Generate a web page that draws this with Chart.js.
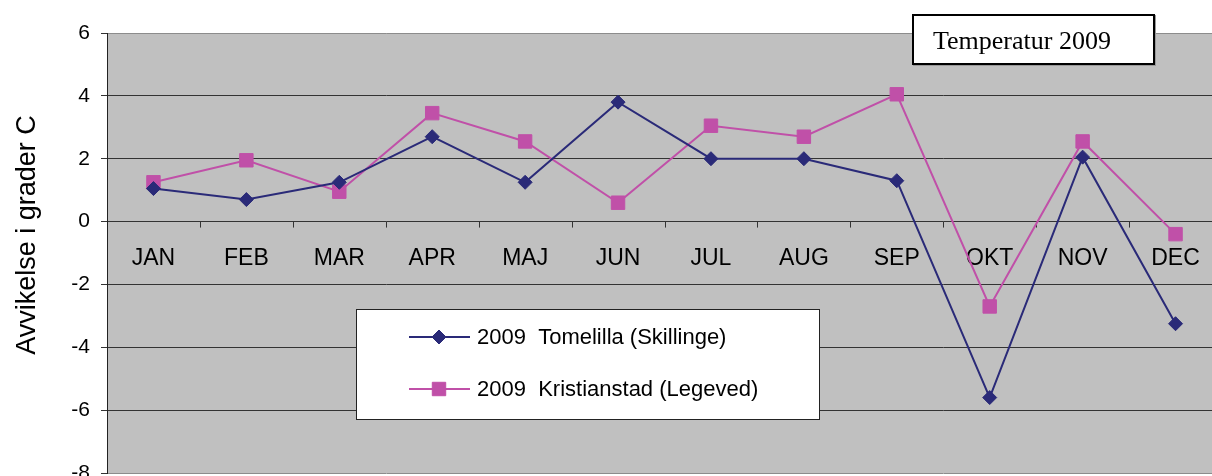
<!DOCTYPE html>
<html lang="sv">
<head>
  <meta charset="UTF-8" />
  <title>Temperatur 2009</title>
  <script src="https://cdn.jsdelivr.net/npm/chart.js"></script>
  <style>
    html, body {
      margin: 0;
      padding: 0;
      background: #fff;
    }

    /* the plot runs a bit past the right edge in the original, so the canvas is wider and clipped */
    #wrap {
      position: relative;
      width: 1212px;
      height: 476px;
      overflow: hidden;
    }

    #title-box {
      position: absolute;
      left: 912px;
      top: 14px;
      width: 220px;
      height: 45px;
      padding: 2px 0 0 19px;
      border: 2px solid #000;
      background: #fff;
      box-shadow: 1px 1px 0 #999;
      font-family: 'Liberation Serif', 'Times New Roman', serif;
      font-size: 26px;
      line-height: 45px;
      color: #000;
      white-space: nowrap;
    }
  </style>
</head>
<body>

  <div id="wrap">
    <canvas id="tempChart" width="1222" height="476"></canvas>
    <div id="title-box">Temperatur 2009</div>
  </div>

  <script>
    const months = ['JAN', 'FEB', 'MAR', 'APR', 'MAJ', 'JUN', 'JUL', 'AUG', 'SEP', 'OKT', 'NOV', 'DEC'];
    const tomelilla = [1.05, 0.7, 1.25, 2.7, 1.25, 3.8, 2.0, 2.0, 1.3, -5.6, 2.05, -3.25];
    const kristianstad = [1.25, 1.95, 0.95, 3.45, 2.55, 0.6, 3.05, 2.7, 4.05, -2.7, 2.55, -0.4];
    const seriesNames = ['2009  Tomelilla (Skillinge)', '2009  Kristianstad (Legeved)'];
    const yTitle = 'Avvikelse i grader C';

    const sans = "'Liberation Sans', Arial, sans-serif";

    // grey plot area behind everything
    const plotBackground = {
      id: 'plotBackground',
      beforeDraw(chart) {
        const { ctx, chartArea: a } = chart;
        ctx.save();
        ctx.fillStyle = '#c0c0c0';
        ctx.fillRect(a.left, a.top, a.right - a.left, a.bottom - a.top);
        ctx.restore();
      }
    };

    // month labels + tick marks sitting on the zero line, like excel does it
    const zeroAxis = {
      id: 'zeroAxis',
      beforeDatasetsDraw(chart) {
        const { ctx } = chart;
        const x = chart.scales.x;
        const y0 = chart.scales.y.getPixelForValue(0);
        ctx.save();
        ctx.strokeStyle = '#333';
        ctx.lineWidth = 1;
        ctx.beginPath();
        for (let i = 1; i < months.length; i++) {
          const bx = Math.round((x.getPixelForValue(i - 1) + x.getPixelForValue(i)) / 2) + 0.5;
          ctx.moveTo(bx, y0);
          ctx.lineTo(bx, y0 + 6);
        }
        ctx.stroke();

        ctx.fillStyle = '#000';
        ctx.font = '23px ' + sans;
        ctx.textAlign = 'center';
        ctx.textBaseline = 'alphabetic';
        months.forEach((m, i) => {
          ctx.fillText(m, x.getPixelForValue(i), y0 + 43);
        });
        ctx.restore();
      }
    };

    // rotated y title, a bit above the middle
    const yTitleDraw = {
      id: 'yTitleDraw',
      afterDraw(chart) {
        const { ctx } = chart;
        ctx.save();
        ctx.translate(35, 235);
        ctx.rotate(-Math.PI / 2);
        ctx.fillStyle = '#000';
        ctx.font = '27px ' + sans;
        ctx.textAlign = 'center';
        ctx.textBaseline = 'alphabetic';
        ctx.fillText(yTitle, 0, 0);
        ctx.restore();
      }
    };

    // boxed legend inside the plot
    const boxLegend = {
      id: 'boxLegend',
      afterDraw(chart) {
        const { ctx } = chart;
        const box = { left: 356, top: 309, width: 463, height: 110 };
        ctx.save();
        ctx.fillStyle = '#fff';
        ctx.fillRect(box.left, box.top, box.width, box.height);
        ctx.strokeStyle = '#222';
        ctx.lineWidth = 1;
        ctx.strokeRect(box.left + 0.5, box.top + 0.5, box.width, box.height);

        chart.data.datasets.forEach((ds, i) => {
          const cy = 337 + i * 52;
          ctx.strokeStyle = ds.borderColor;
          ctx.lineWidth = ds.borderWidth;
          ctx.beginPath();
          ctx.moveTo(409, cy);
          ctx.lineTo(470, cy);
          ctx.stroke();

          ctx.fillStyle = ds.pointBackgroundColor;
          ctx.strokeStyle = ds.pointBorderColor;
          ctx.lineWidth = 1;
          Chart.helpers.drawPoint(ctx, {
            pointStyle: ds.pointStyle,
            radius: ds.pointRadius,
            borderWidth: 1,
            rotation: 0
          }, 439, cy);

          ctx.fillStyle = '#000';
          ctx.font = '22px ' + sans;
          ctx.textAlign = 'left';
          ctx.textBaseline = 'middle';
          ctx.fillText(ds.label, 477, cy + 1);
        });
        ctx.restore();
      }
    };

    new Chart(document.getElementById('tempChart'), {
      type: 'line',
      data: {
        labels: months,
        datasets: [
          {
            label: seriesNames[0],
            data: tomelilla,
            borderColor: '#2a2a78',
            backgroundColor: '#2a2a78',
            pointBackgroundColor: '#2a2a78',
            pointBorderColor: '#2a2a78',
            borderWidth: 2,
            pointStyle: 'rectRot',
            pointRadius: 7,
            pointBorderWidth: 1,
            tension: 0
          },
          {
            label: seriesNames[1],
            data: kristianstad,
            borderColor: '#c050a8',
            backgroundColor: '#c050a8',
            pointBackgroundColor: '#c050a8',
            pointBorderColor: '#c050a8',
            borderWidth: 2,
            pointStyle: 'rect',
            pointRadius: 9.5,
            pointBorderWidth: 1,
            tension: 0
          }
        ]
      },
      options: {
        responsive: false,
        animation: false,
        devicePixelRatio: 1,
        layout: {
          autoPadding: false,
          padding: { top: 33, bottom: 3, left: 0, right: 0 }
        },
        scales: {
          x: {
            type: 'category',
            display: false,
            offset: true
          },
          y: {
            min: -8,
            max: 6,
            ticks: {
              stepSize: 2,
              color: '#000',
              padding: 11,
              font: { family: sans, size: 21 }
            },
            grid: {
              color: ctx => (ctx.tick && (ctx.tick.value === 6 || ctx.tick.value === -8)) ? '#8c8c8c' : '#333',
              tickColor: '#333',
              tickLength: 6,
              lineWidth: 1
            },
            border: { color: '#222', width: 1 },
            afterFit(scale) {
              scale.width = 107;
              scale.paddingTop = 0;
              scale.paddingBottom = 0;
            }
          }
        },
        plugins: {
          legend: { display: false },
          tooltip: { enabled: false },
          title: { display: false }
        }
      },
      plugins: [plotBackground, zeroAxis, yTitleDraw, boxLegend]
    });
  </script>

</body>
</html>
